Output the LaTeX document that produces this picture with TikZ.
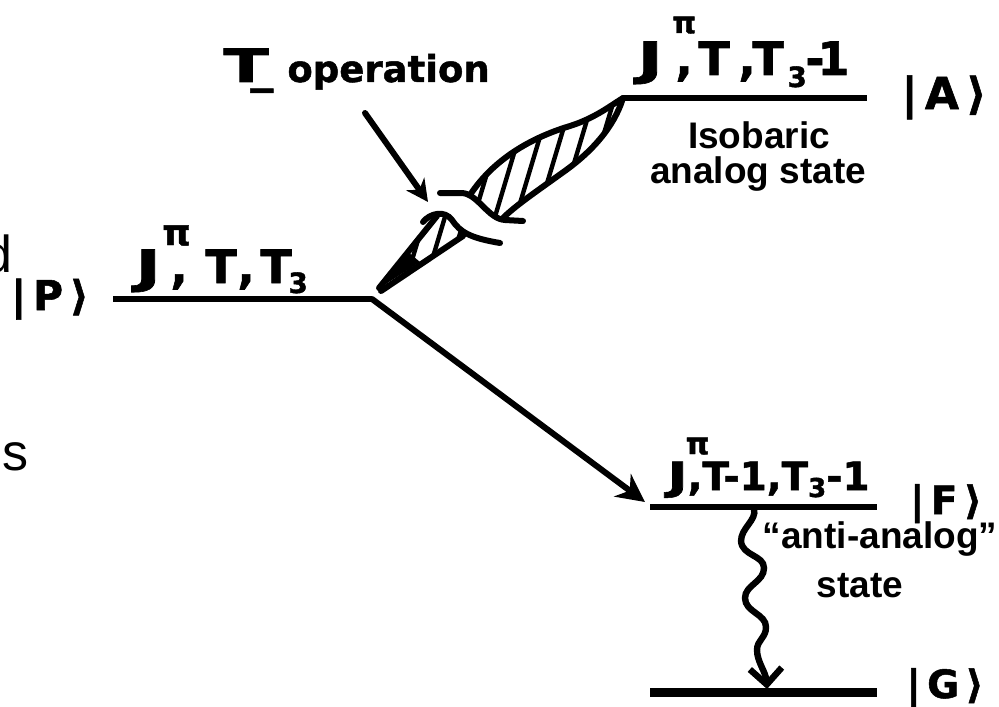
\documentclass[tikz,border=0pt]{standalone}
\usepackage{graphicx}
\usepackage{fontspec}
\setmainfont{Liberation Sans}
\newfontfamily\handfont{DejaVu Sans}[BoldFeatures={FakeBold=1.3}]
\usetikzlibrary{arrows.meta}
\newcommand{\gl}[2]{\makebox[#1][l]{#2}}
\newcommand{\pisup}[3]{\rlap{\hspace{#3}\raisebox{#1}{\fontsize{#2}{#2}\selectfont π}}}
\newcommand{\lowsub}[2]{\raisebox{-#1}{\fontsize{#2}{#2}\selectfont 3}}
\newcommand{\wideJ}[1]{\scalebox{#1}[1]{J}}
\begin{document}
\begin{tikzpicture}[x=0.5pt,y=-0.5pt,
  level/.style={line width=3.4pt},
  thickline/.style={line width=3pt, line cap=round},
  hatchline/.style={line width=2.2pt},
  handtext/.style={inner sep=0pt, font=\handfont\bfseries\fontsize{23}{23}\selectfont},
  ket/.style={inner sep=0pt, font=\handfont\bfseries\fontsize{#1}{#1}\selectfont},
  typed/.style={inner sep=0pt, font=\bfseries\fontsize{18.5}{18.5}\selectfont},
  frag/.style={inner sep=0pt, font=\fontsize{26}{26}\selectfont}]
\useasboundingbox (0,0) rectangle (999,706);

% level coordinates
\coordinate (P1) at (113,299);
\coordinate (P2) at (372,299);
\coordinate (A1) at (623,98);
\coordinate (A2) at (867,98);
\coordinate (F1) at (650,507);
\coordinate (F2) at (877,507);
\coordinate (G1) at (650,692);
\coordinate (G2) at (877,692);
\coordinate (Ftip) at (645,502);
\coordinate (Wtop) at (754,509);
\coordinate (Wbot) at (767,689);
\coordinate (Tstart) at (365,113);
\coordinate (Ttip) at (428,202);

% levels
\draw[level] (P1) -- (P2);
\draw[level] (A1) -- (A2);
\draw[level] (F1) -- (F2);
\draw[line width=4.5pt] (G1) -- (G2);

% P -> F arrow
\draw[thickline, -{Stealth[length=14pt,width=14pt,inset=4.5pt]}] (P2) -- (Ftip);

% T_ operation arrow
\draw[thickline, -{Stealth[length=11pt,width=11pt,inset=3.5pt]}] (Tstart) -- (Ttip);

% wavy transition F -> G
\draw[line width=3.2pt, line cap=round, -{Straight Barb[length=8pt,width=16pt]}]
  (Wtop) .. controls (757,520) and (741,528) .. (741,541)
  .. controls (742,556) and (764,555) .. (764,568)
  .. controls (764,582) and (745,585) .. (745,598)
  .. controls (745,612) and (766,614) .. (766,627)
  .. controls (766,638) and (757,640) .. (757,650)
  .. controls (757,662) and (766,672) .. (Wbot);

% hatched band, upper part
\begin{scope}
  \clip (470,195) .. controls (493,160) and (530,138) .. (570,126)
    .. controls (595,118) and (610,106) .. (A1)
    .. controls (614,127) and (592,152) .. (562,173)
    .. controls (537,191) and (515,206) .. (503,218)
    .. controls (490,214) and (480,198) .. cycle;
  \foreach \x in {440,461,...,680} \draw[hatchline] (\x,260) -- ++(60,-200);
\end{scope}
\draw[thickline] (470,195) .. controls (493,160) and (530,138) .. (570,126)
    .. controls (595,118) and (610,106) .. (A1);
\draw[thickline] (A1) .. controls (614,127) and (592,152) .. (562,173)
    .. controls (537,191) and (515,206) .. (503,218);
\draw[thickline] (440,193) -- (462,193) .. controls (478,194) and (488,219) .. (505,220) -- (523,221);

% hatched band, lower part
\begin{scope}
  \clip (379,288) -- (437,216) .. controls (447,214) and (453,225) .. (463,235) -- cycle;
  \foreach \x in {380,400,...,500} \draw[hatchline] (\x,300) -- ++(40,-133);
\end{scope}
\fill (378,289) -- (408,252) -- (420,262) -- cycle;
\draw[thickline] (379,288) -- (437,216);
\draw[thickline] (381,291) -- (463,236);
\draw[thickline] (423,222) .. controls (430,213) and (445,210) .. (452,220)
   .. controls (460,232) and (470,238) .. (500,243);

% kets
\node[ket=20.5, anchor=base] (Pket) at (50,310) {|\,P\,⟩};
\node[ket=22, anchor=base] (Aket) at (944,109) {|\,A\,⟩};
\node[ket=19.5, anchor=base] (Fket) at (946,514) {|\,F\,⟩};
\node[ket=19.5, anchor=base] (Gket) at (945,698) {|\,G\,⟩};

% quantum number labels
\node[handtext, anchor=base west] (Plbl) at (135,283)
  {\gl{13.5pt}{\wideJ{1.5}}\gl{4pt}{\pisup{19pt}{18}{0pt}}\gl{17.5pt}{,}\gl{16pt}{T}\gl{11.5pt}{,}\gl{14pt}{T}\lowsub{5pt}{14}};
\node[handtext, anchor=base west] (Albl) at (637,75)
  {\gl{17.5pt}{\wideJ{1.5}}\gl{1.5pt}{\pisup{21pt}{15}{0pt}}\gl{11.5pt}{,}\gl{20pt}{T}\gl{7pt}{,}\gl{17.5pt}{T}\gl{9pt}{\lowsub{6pt}{14}}\gl{6pt}{-}1};
\node[handtext, anchor=base west, font=\handfont\bfseries\fontsize{19.5}{19.5}\selectfont] (Flbl) at (667,490)
  {\wideJ{1.4}\pisup{18pt}{15}{-1pt},T-1,T\lowsub{3.5pt}{13}-1};

% T_ operation
\node[handtext, anchor=base west] (Top) at (223,82)
  {\gl{22.5pt}{\scalebox{1.45}[1]{T}}\kern-9pt\_\kern7pt{\fontsize{18.5}{18.5}\selectfont operation}};

% typed descriptions
\node[typed, anchor=base] (iso1) at (759,148) {Isobaric};
\node[typed, anchor=base] (iso2) at (758,183) {analog state};
\node[typed, anchor=base] (aa1) at (880,548) {“anti-analog”};
\node[typed, anchor=base] (aa2) at (860,597) {state};

% clipped fragments at the left edge
\node[frag, anchor=base east] (dfrag) at (13,272) {d};
\node[frag, anchor=base east] (sfrag) at (29,470) {s};
\end{tikzpicture}
\end{document}
